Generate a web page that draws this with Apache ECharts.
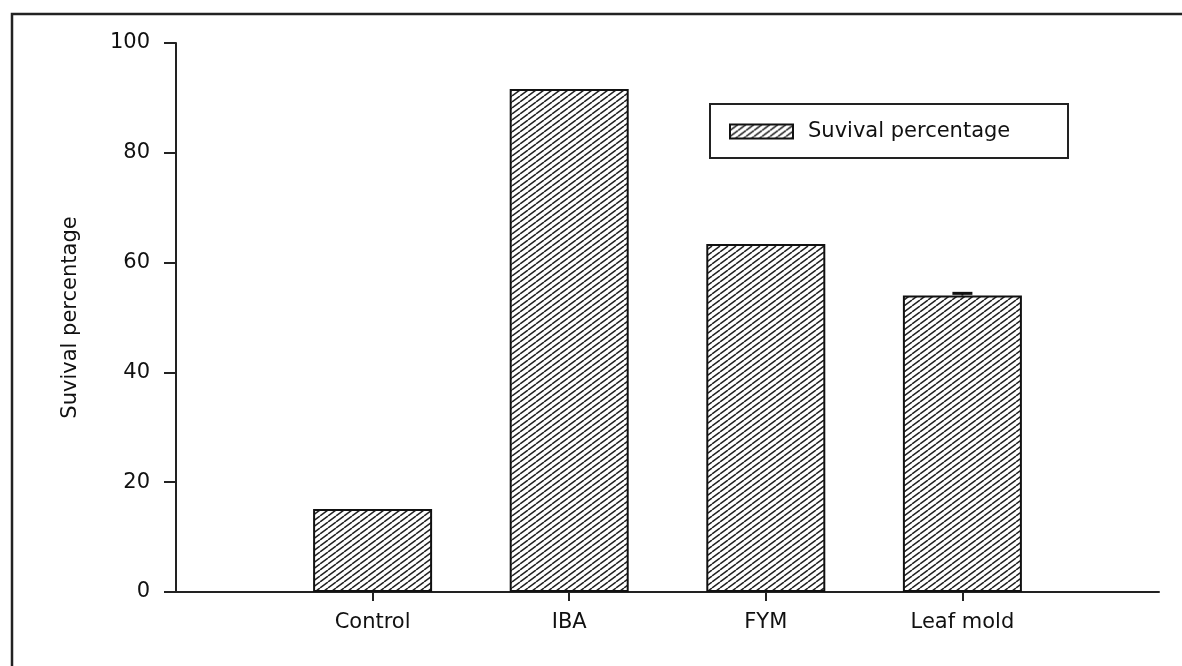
<!DOCTYPE html>
<html>
<head>
<meta charset="utf-8">
<script src="https://cdn.jsdelivr.net/npm/echarts@6/dist/echarts.min.js"></script>
<style>html,body{margin:0;padding:0;background:#fff;}#c{width:1182px;height:666px;}</style>
</head>
<body>
<div id="c"></div>
<script>
const categories = ['Control', 'IBA', 'FYM', 'Leaf mold'];
const survival = [15.1, 91.6, 63.4, 54.0];
const errors = [0, 0, 0, 0.4];
const yTicks = [0, 20, 40, 60, 80, 100];
const seriesName = 'Suvival percentage';
const yName = 'Suvival percentage';

function hatch() {
  const w = 8, h = 6;
  const c = document.createElement('canvas');
  c.width = w; c.height = h;
  const g = c.getContext('2d');
  g.fillStyle = '#fff'; g.fillRect(0, 0, w, h);
  g.strokeStyle = '#222'; g.lineWidth = 1.5;
  [[0, h, w, 0], [-w, h, 0, 0], [w, h, 2 * w, 0]].forEach(function (s) {
    g.beginPath(); g.moveTo(s[0], s[1]); g.lineTo(s[2], s[3]); g.stroke();
  });
  return c;
}

const axisCats = [''].concat(categories, ['']);
const barData = ['-'].concat(survival, ['-']);
const errData = [];
errors.forEach(function (e, i) { if (e > 0) errData.push([i + 1, survival[i], e]); });

const font = 'DejaVu Sans';
const fs = 21;
const chart = echarts.init(document.getElementById('c'));
chart.setOption({
  animation: false,
  backgroundColor: '#fff',
  graphic: [{
    type: 'rect', silent: true,
    shape: { x: 12, y: 14, width: 1400, height: 900 },
    style: { fill: 'none', stroke: '#222', lineWidth: 2.5 }
  }, {
    type: 'rect', silent: true,
    shape: { x: 710, y: 104, width: 358, height: 54 },
    style: { fill: '#fff', stroke: '#222', lineWidth: 2 }, z: 0
  }],
  legend: {
    left: 729, top: 121, padding: 0,
    itemWidth: 63, itemHeight: 14, itemGap: 10,
    icon: 'rect',
    textStyle: { fontFamily: font, fontSize: fs, color: '#111', padding: [0, 0, 0, 10], lineHeight: 20 },
    data: [seriesName], z: 5
  },
  grid: { left: 176, right: 23, top: 43, bottom: 74 },
  xAxis: {
    type: 'category',
    data: axisCats,
    boundaryGap: false,
    axisLine: { lineStyle: { color: '#222', width: 2 } },
    axisTick: { length: 9, lineStyle: { color: '#222', width: 2 },
      interval: function (i, v) { return v !== ''; } },
    axisLabel: { interval: 0, fontFamily: font, fontSize: fs, color: '#111', margin: 20 },
    splitLine: { show: false }
  },
  yAxis: {
    type: 'value', min: yTicks[0], max: yTicks[yTicks.length - 1], interval: yTicks[1] - yTicks[0],
    name: yName, nameLocation: 'middle', nameGap: 95,
    nameTextStyle: { fontFamily: font, fontSize: fs, color: '#111' },
    axisLine: { show: true, lineStyle: { color: '#222', width: 2 } },
    axisTick: { show: true, length: 12, lineStyle: { color: '#222', width: 2 } },
    axisLabel: { fontFamily: font, fontSize: fs, color: '#111', margin: 26 },
    splitLine: { show: false }
  },
  series: [{
    name: seriesName, type: 'bar', data: barData, barWidth: 119,
    itemStyle: { color: { image: hatch(), repeat: 'repeat' }, borderColor: '#111', borderWidth: 2 }
  }, {
    type: 'custom', data: errData, z: 10, silent: true,
    renderItem: function (params, api) {
      const x = api.value(0), y = api.value(1), e = api.value(2);
      const top = api.coord([x, y + e]);
      const base = api.coord([x, y]);
      return { type: 'group', children: [
        { type: 'line', shape: { x1: top[0], y1: top[1], x2: base[0], y2: base[1] }, style: { stroke: '#111', lineWidth: 2 } },
        { type: 'line', shape: { x1: top[0] - 10, y1: top[1], x2: top[0] + 10, y2: top[1] }, style: { stroke: '#111', lineWidth: 3 } }
      ] };
    }
  }]
});
</script>
</body>
</html>
